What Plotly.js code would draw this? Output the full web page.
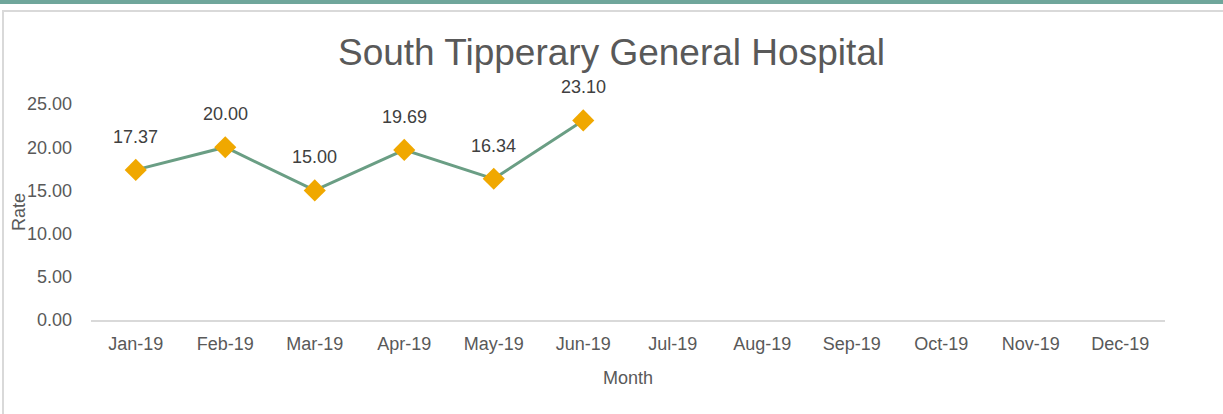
<!DOCTYPE html>
<html>
<head>
<meta charset="utf-8">
<script src="https://cdn.plot.ly/plotly-3.0.1.min.js"></script>
<style>
  html, body { margin: 0; padding: 0; background: #fff; }
  #wrap { position: relative; width: 1223px; height: 414px; overflow: hidden; }
  #chart { position: absolute; left: 0; top: 0; width: 1223px; height: 414px; }
  #band { position: absolute; left: 0; top: 0; width: 1223px; height: 4px; background: #6fa69b; pointer-events: none; }
  #frame { position: absolute; left: 2px; top: 10px; width: 1240px; height: 420px; border: 2px solid #d9d9d9; box-sizing: border-box; pointer-events: none; }
</style>
</head>
<body>
<div id="wrap">
  <div id="chart"></div>
  <div id="band"></div>
  <div id="frame"></div>
</div>
<script>
const months = ["Jan-19","Feb-19","Mar-19","Apr-19","May-19","Jun-19","Jul-19","Aug-19","Sep-19","Oct-19","Nov-19","Dec-19"];
const rateMonths = ["Jan-19","Feb-19","Mar-19","Apr-19","May-19","Jun-19"];
const rateValues = [17.37, 20.00, 15.00, 19.69, 16.34, 23.10];
const yTicks = [0, 5, 10, 15, 20, 25];

const narrow = '"Liberation Sans Narrow", "Arial Narrow", "Liberation Sans", sans-serif';

const trace = {
  x: rateMonths,
  y: rateValues,
  type: 'scatter',
  mode: 'lines+markers',
  line: { color: '#6a9e84', width: 3 },
  marker: { symbol: 'diamond', size: 17, color: '#f0a800' },
  hoverinfo: 'skip',
  showlegend: false
};

const annotations = rateMonths.map((m, i) => ({
  x: m, y: rateValues[i], xref: 'x', yref: 'y',
  text: rateValues[i].toFixed(2),
  showarrow: false, yshift: 33,
  font: { family: narrow, size: 18, color: '#404040' }
}));

annotations.push({
  text: 'Rate', textangle: -90,
  xref: 'paper', yref: 'paper',
  x: (19 - 91) / 1074, y: 0.5,
  xanchor: 'center', yanchor: 'middle',
  showarrow: false,
  font: { family: narrow, size: 18, color: '#595959' }
});

const layout = {
  width: 1223, height: 414,
  margin: { l: 91, r: 58, t: 104, b: 94 },
  paper_bgcolor: '#ffffff',
  plot_bgcolor: '#ffffff',
  title: {
    text: 'South Tipperary General Hospital',
    font: { family: '"Liberation Sans", Arial, sans-serif', size: 37, color: '#595959' },
    x: 0.5, xref: 'container', xanchor: 'center',
    y: 1 - 52 / 414, yref: 'container', yanchor: 'middle'
  },
  xaxis: {
    type: 'category',
    categoryarray: months, categoryorder: 'array',
    tickvals: months,
    range: [-0.5, 11.5],
    showgrid: false, zeroline: false,
    showline: true, linecolor: '#d9d9d9', linewidth: 2,
    ticks: '',
    tickfont: { family: narrow, size: 18, color: '#595959' },
    ticklabelstandoff: 6,
    title: { text: 'Month', font: { family: narrow, size: 18, color: '#595959' }, standoff: 19 }
  },
  yaxis: {
    range: [0, 25],
    tickvals: yTicks,
    ticktext: yTicks.map(v => v.toFixed(2)),
    showgrid: false, zeroline: false, showline: false,
    ticks: '',
    tickfont: { family: narrow, size: 18, color: '#595959' },
    ticklabelstandoff: 18
  },
  annotations: annotations
};

Plotly.newPlot('chart', [trace], layout, { displayModeBar: false, staticPlot: true });
</script>
</body>
</html>
